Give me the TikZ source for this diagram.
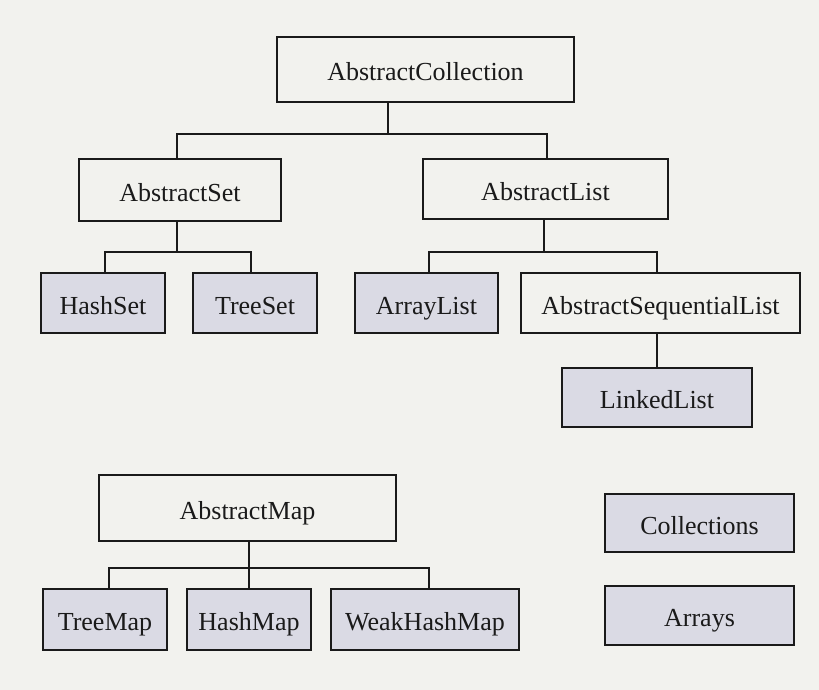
\documentclass[tikz,border=0pt]{standalone}
\usepackage{fontspec}
\setmainfont{Liberation Serif}
\definecolor{bgc}{HTML}{F2F2EE}
\definecolor{grayfill}{HTML}{DADAE4}
\definecolor{ink}{HTML}{1A1A1A}
\begin{document}
\begin{tikzpicture}[x=1pt,y=-1pt,
  box/.style={draw=ink, line width=2pt, inner sep=0pt, outer sep=0pt,
    font=\fontsize{26}{30}\selectfont, text=ink,
    text height=22pt, text depth=0pt},
  cls/.style={box},
  leaf/.style={box, fill=grayfill},
  link/.style={draw=ink, line width=2pt}]
\fill[bgc] (0,0) rectangle (819,690);
\useasboundingbox (0,0) rectangle (819,690);

% nodes: centre, width, height from the reference
\node[cls, minimum width=297, minimum height=65] (coll) at (425.5,69.5) {AbstractCollection};
\node[cls, minimum width=202, minimum height=62] (aset) at (180,190) {AbstractSet};
\node[cls, minimum width=245, minimum height=60] (alist) at (545.5,189) {AbstractList};
\node[leaf, minimum width=124, minimum height=60] (hset) at (103,303) {HashSet};
\node[leaf, minimum width=124, minimum height=60] (tset) at (255,303) {TreeSet};
\node[leaf, minimum width=143, minimum height=60] (alst) at (426.5,303) {ArrayList};
\node[cls, minimum width=279, minimum height=60] (aseq) at (660.5,303) {AbstractSequentialList};
\node[leaf, minimum width=190, minimum height=59] (llist) at (657,397.5) {LinkedList};
\node[cls, minimum width=297, minimum height=66] (amap) at (247.5,508) {AbstractMap};
\node[leaf, minimum width=124, minimum height=61] (tmap) at (105,619.5) {TreeMap};
\node[leaf, minimum width=124, minimum height=61] (hmap) at (249,619.5) {HashMap};
\node[leaf, minimum width=188, minimum height=61] (wmap) at (425,619.5) {WeakHashMap};
\node[leaf, minimum width=189, minimum height=58] (colls) at (699.5,523) {Collections};
\node[leaf, minimum width=189, minimum height=59] (arrs) at (699.5,615.5) {Arrays};

% bar levels
\coordinate (bar1) at (0,134);
\coordinate (bar2) at (0,252);
\coordinate (bar4) at (0,568);

% attachment points
\coordinate (c0) at ([xshift=-37.5pt]coll.south);
\coordinate (s0) at ([xshift=-3pt]aset.north);
\coordinate (s1) at ([xshift=-3pt]aset.south);
\coordinate (l0) at ([xshift=1.5pt]alist.north);
\coordinate (l1) at ([xshift=-1.5pt]alist.south);
\coordinate (h0) at ([xshift=2pt]hset.north);
\coordinate (t0) at ([xshift=-4pt]tset.north);
\coordinate (a0) at ([xshift=2.5pt]alst.north);
\coordinate (q0) at ([xshift=-3.5pt]aseq.north);
\coordinate (q1) at ([xshift=-3.5pt]aseq.south);
\coordinate (m1) at ([xshift=1.5pt]amap.south);
\coordinate (tm0) at ([xshift=4pt]tmap.north);
\coordinate (wm0) at ([xshift=4pt]wmap.north);

% AbstractCollection -> AbstractSet, AbstractList
\draw[link] (c0) -- (c0 |- bar1);
\draw[link] (s0) -- (s0 |- bar1) -- (l0 |- bar1) -- (l0);

% AbstractSet -> HashSet, TreeSet
\draw[link] (s1) -- (s1 |- bar2);
\draw[link] (h0) -- (h0 |- bar2) -- (t0 |- bar2) -- (t0);

% AbstractList -> ArrayList, AbstractSequentialList
\draw[link] (l1) -- (l1 |- bar2);
\draw[link] (a0) -- (a0 |- bar2) -- (q0 |- bar2) -- (q0);

% AbstractSequentialList -> LinkedList
\draw[link] (q1) -- (llist.north);

% AbstractMap -> TreeMap, HashMap, WeakHashMap
\draw[link] (m1) -- (m1 |- bar4);
\draw[link] (tm0) -- (tm0 |- bar4) -- (wm0 |- bar4) -- (wm0);
\draw[link] (hmap.north) -- (hmap.north |- bar4);
\end{tikzpicture}
\end{document}
